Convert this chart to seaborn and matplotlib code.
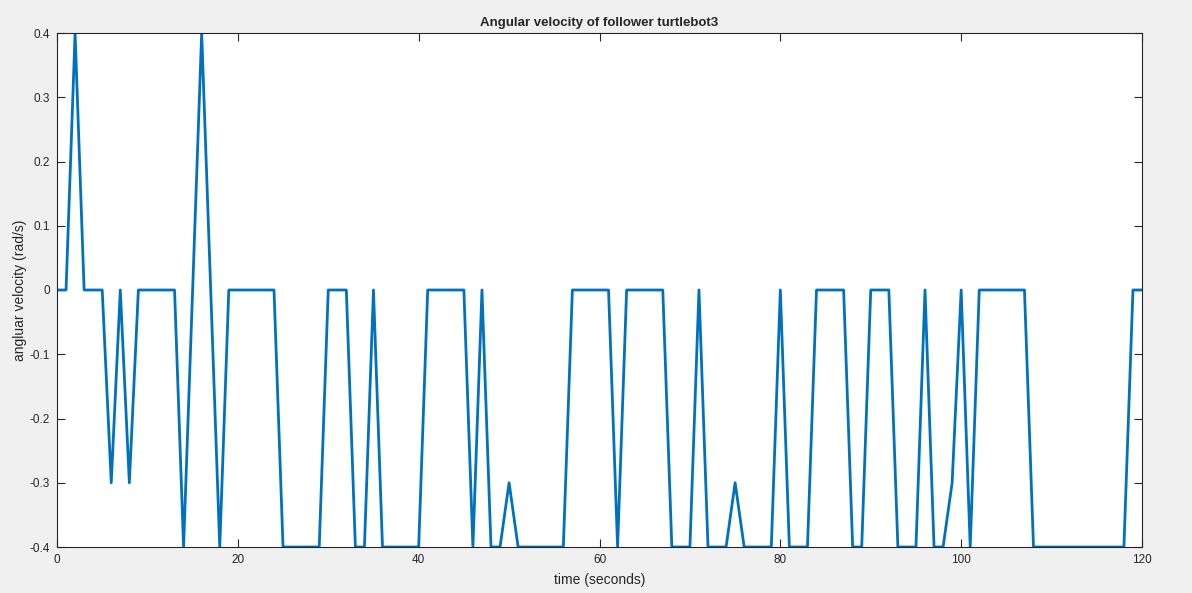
import matplotlib
matplotlib.use("Agg")
import matplotlib.pyplot as plt
import pandas as pd
import seaborn as sns

# angular velocity of follower turtlebot3, one sample per second
time_s = list(range(0, 121))
ang_vel = [
    0, 0, 0.4, 0, 0, 0, -0.3, 0, -0.3, 0,          # 0-9
    0, 0, 0, 0, -0.4, 0, 0.4, 0, -0.4, 0,          # 10-19
    0, 0, 0, 0, 0, -0.4, -0.4, -0.4, -0.4, -0.4,   # 20-29
    0, 0, 0, -0.4, -0.4, 0, -0.4, -0.4, -0.4, -0.4,  # 30-39
    -0.4, 0, 0, 0, 0, 0, -0.4, 0, -0.4, -0.4,      # 40-49
    -0.3, -0.4, -0.4, -0.4, -0.4, -0.4, -0.4, 0, 0, 0,  # 50-59
    0, 0, -0.4, 0, 0, 0, 0, 0, -0.4, -0.4,         # 60-69
    -0.4, 0, -0.4, -0.4, -0.4, -0.3, -0.4, -0.4, -0.4, -0.4,  # 70-79
    0, -0.4, -0.4, -0.4, 0, 0, 0, 0, -0.4, -0.4,   # 80-89
    0, 0, 0, -0.4, -0.4, -0.4, 0, -0.4, -0.4, -0.3,  # 90-99
    0, -0.4, 0, 0, 0, 0, 0, 0, -0.4, -0.4,         # 100-109
    -0.4, -0.4, -0.4, -0.4, -0.4, -0.4, -0.4, -0.4, -0.4, 0,  # 110-119
    0,                                             # 120
]

x_ticks = [0, 20, 40, 60, 80, 100, 120]
y_ticks = [-0.4, -0.3, -0.2, -0.1, 0, 0.1, 0.2, 0.3, 0.4]
y_labels = ["-0.4", "-0.3", "-0.2", "-0.1", "0", "0.1", "0.2", "0.3", "0.4"]

df = pd.DataFrame({"time": time_s, "w": ang_vel})

sns.set_style("ticks")
plt.rcParams["font.family"] = ["Liberation Sans Narrow", "Liberation Sans", "DejaVu Sans"]

fig = plt.figure(figsize=(11.92, 5.93), dpi=100, facecolor="#f0f0f0")
ax = fig.add_axes([57 / 1192, 1 - 547 / 593, (1142 - 57) / 1192, (547 - 33) / 593])
ax.set_facecolor("white")

sns.lineplot(data=df, x="time", y="w", ax=ax, color="#0072BD", linewidth=2.0)

ax.set_xlim(0, 120)
ax.set_ylim(-0.4, 0.4)
ax.set_xticks(x_ticks)
ax.set_yticks(y_ticks)
ax.set_yticklabels(y_labels)
ax.tick_params(direction="in", top=True, right=True, length=6, width=0.8,
               colors="#262626", labelsize=8.5, pad=5)
for s in ax.spines.values():
    s.set_color("#262626")
    s.set_linewidth(0.8)
    s.set_visible(True)

ax.set_title("Angular velocity of follower turtlebot3", fontsize=9.5,
             fontweight="bold", pad=5)
ax.set_xlabel("time (seconds)", fontsize=10, color="#262626", labelpad=5)
ax.set_ylabel("angluar velocity (rad/s)", fontsize=10, color="#262626", labelpad=2)

fig.savefig("out.png", dpi=100, facecolor=fig.get_facecolor())
